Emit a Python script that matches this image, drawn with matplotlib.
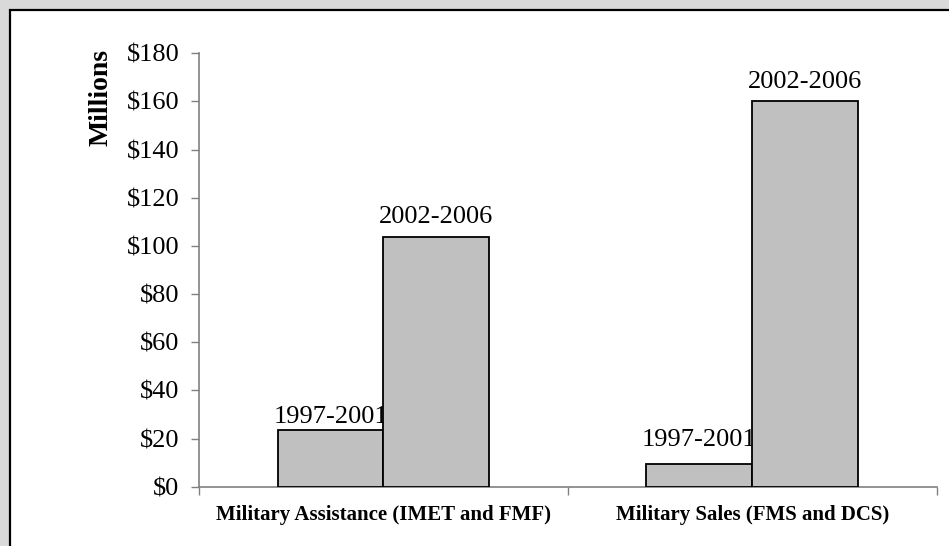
import numpy as np
import matplotlib.pyplot as plt
from matplotlib.patches import Rectangle

categories = ['Military Assistance (IMET and FMF)', 'Military Sales (FMS and DCS)']
periods = ['1997-2001', '2002-2006']
vals_9701 = [23.5, 9.3]
vals_0206 = [103.6, 160]
yticks = np.arange(0, 181, 20)

plt.rcParams['font.family'] = ['Liberation Serif', 'DejaVu Serif']

fig = plt.figure(figsize=(9.49, 5.46), dpi=100)
fig.patch.set_facecolor('#d9d9d9')
# white frame with black border
fig.patches.append(Rectangle((10/949, -0.1), 1.2, (546-10)/546 + 0.1,
                             transform=fig.transFigure, facecolor='white',
                             edgecolor='black', linewidth=1.6, zorder=-5))

ax = fig.add_axes([199/949, 1 - 486.7/546, (936.7-199)/949, (486.7-53.3)/546])
ax.set_facecolor('none')

x = np.arange(len(categories))
w = 0.287
b1 = ax.bar(x - w/2, vals_9701, w, color='#c0c0c0', edgecolor='black', linewidth=1.3, zorder=3)
b2 = ax.bar(x + w/2, vals_0206, w, color='#c0c0c0', edgecolor='black', linewidth=1.3, zorder=3)

# label offsets (points) above each bar, as placed in the original
offs1 = [1.5, 9.5]
offs2 = [6.5, 6]
for i in range(len(categories)):
    ax.annotate(periods[0], (x[i] - w/2, vals_9701[i]), xytext=(0, offs1[i]),
                textcoords='offset points', ha='center', va='bottom', fontsize=19, zorder=2)
    ax.annotate(periods[1], (x[i] + w/2, vals_0206[i]), xytext=(0, offs2[i]),
                textcoords='offset points', ha='center', va='bottom', fontsize=19, zorder=4)

ax.set_xlim(-0.5, len(categories) - 0.5)
ax.set_ylim(0, 180)
ax.set_yticks(yticks)
ax.set_yticklabels(['$%d' % v for v in yticks], fontsize=19)
ax.tick_params(axis='y', direction='out', length=6, width=1, color='#808080', pad=8)

ax.set_xticks(x)
ax.set_xticklabels(categories, fontsize=15, fontweight='bold')
ax.tick_params(axis='x', length=0, pad=13)
ax.set_xticks(np.arange(-0.5, len(categories)), minor=True)
ax.tick_params(axis='x', which='minor', direction='out', length=6, width=1, color='#808080')

for s in ['top', 'right']:
    ax.spines[s].set_visible(False)
for s in ['left', 'bottom']:
    ax.spines[s].set_color('#808080')
    ax.spines[s].set_linewidth(1.2)

fig.text(101/949, 1 - 97/546, 'Millions', rotation=90, ha='center', va='center',
         fontsize=20, fontweight='bold')

fig.savefig('out.png', dpi=100, facecolor=fig.get_facecolor())
